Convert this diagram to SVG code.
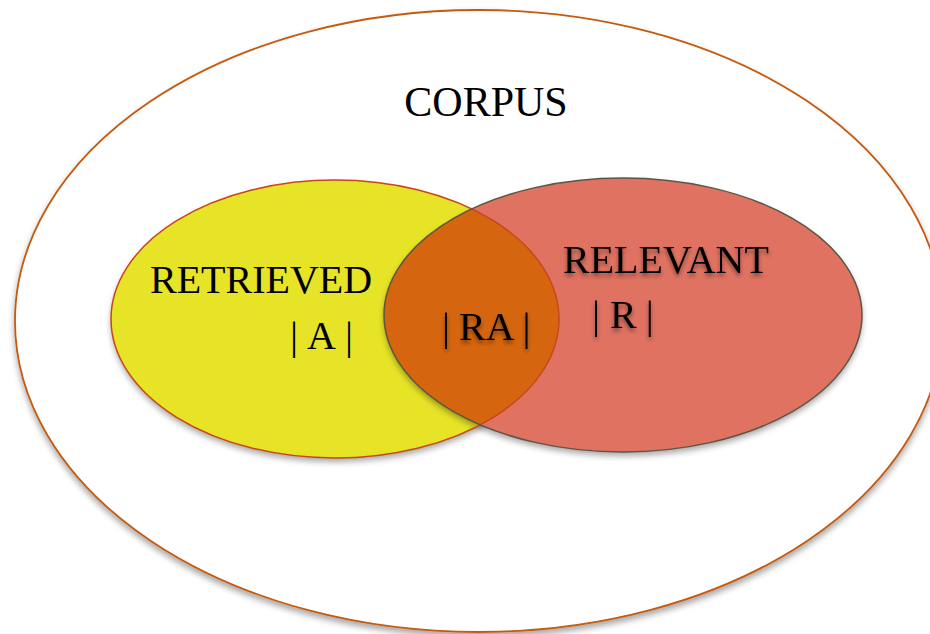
<svg xmlns="http://www.w3.org/2000/svg" width="930" height="634" viewBox="0 0 930 634">
  <style>
    .lbl { font-family: "Liberation Serif", "Times New Roman", serif; fill: #000; }
    .big { font-size: 42px; }
    .mid { font-size: 40px; }
  </style>
  <defs>
    <filter id="shadow" x="-10%" y="-10%" width="120%" height="125%">
      <feGaussianBlur in="SourceAlpha" stdDeviation="3"/>
      <feOffset dx="0" dy="4" result="b"/>
      <feComponentTransfer><feFuncA type="linear" slope="0.35"/></feComponentTransfer>
      <feMerge><feMergeNode/><feMergeNode in="SourceGraphic"/></feMerge>
    </filter>
    <filter id="tshadow" x="-10%" y="-20%" width="120%" height="150%">
      <feGaussianBlur in="SourceAlpha" stdDeviation="2"/>
      <feOffset dx="0" dy="3" result="b"/>
      <feComponentTransfer><feFuncA type="linear" slope="0.45"/></feComponentTransfer>
      <feMerge><feMergeNode/><feMergeNode in="SourceGraphic"/></feMerge>
    </filter>
    <clipPath id="clipA">
      <ellipse cx="335" cy="319" rx="224" ry="139"/>
    </clipPath>
  </defs>

  <rect width="930" height="634" fill="#ffffff"/>

  <g id="corpus">
    <ellipse cx="479" cy="321" rx="464" ry="311" fill="#ffffff" stroke="#C55A11" stroke-width="1.8" filter="url(#shadow)"/>
    <text class="lbl big" x="486" y="116" text-anchor="middle">CORPUS</text>
  </g>

  <g id="retrieved">
    <ellipse cx="335" cy="319" rx="224" ry="139" fill="#E7E326" filter="url(#shadow)"/>
  </g>

  <g id="relevant">
    <ellipse cx="623" cy="315" rx="239" ry="137" fill="#E07262" filter="url(#shadow)"/>
  </g>

  <g id="intersection">
    <ellipse cx="623" cy="315" rx="239" ry="137" fill="#D5660F" clip-path="url(#clipA)"/>
  </g>

  <g id="outlines">
    <ellipse cx="335" cy="319" rx="224" ry="139" fill="none" stroke="#C9461A" stroke-width="1.5"/>
    <ellipse cx="623" cy="315" rx="239" ry="137" fill="none" stroke="#5C5545" stroke-width="1.5"/>
  </g>

  <g id="labels">
    <text class="lbl mid" x="150" y="293">RETRIEVED</text>
    <text class="lbl mid" x="290" y="349">|<tspan dx="9">A</tspan><tspan dx="9">|</tspan></text>
    <text class="lbl mid" x="442" y="340" filter="url(#tshadow)">|<tspan dx="9">RA</tspan><tspan dx="8">|</tspan></text>
    <text class="lbl mid" x="563" y="273" filter="url(#tshadow)">RELEVANT</text>
    <text class="lbl mid" x="592" y="328" filter="url(#tshadow)">|<tspan dx="10">R</tspan><tspan dx="9">|</tspan></text>
  </g>
</svg>
